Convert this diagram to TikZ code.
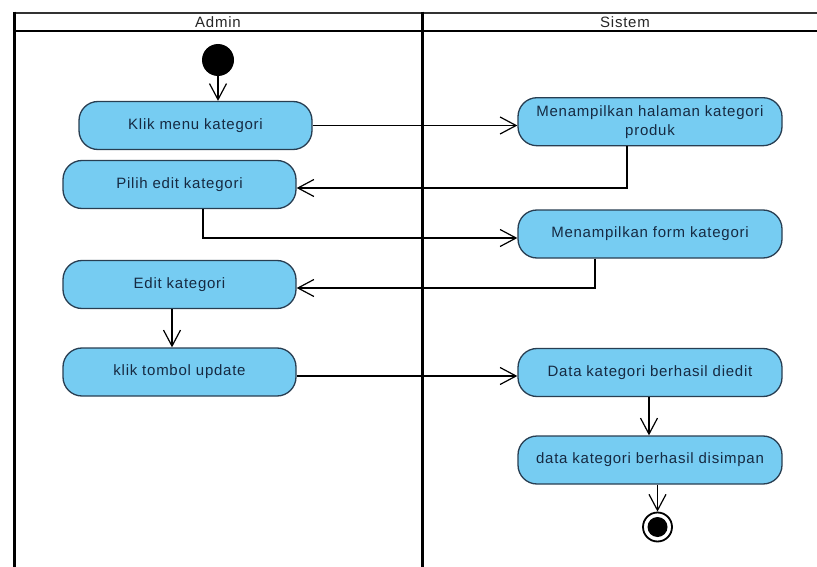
\documentclass[tikz,border=0pt]{standalone}
\usepackage{fontspec}
\setmainfont{Liberation Sans}[LetterSpace=5]
\usetikzlibrary{arrows.meta}
\definecolor{actfill}{RGB}{118,204,242}
\definecolor{actline}{RGB}{40,62,82}
\definecolor{acttext}{RGB}{22,42,66}
\tikzset{
    act/.style={draw=actline, fill=actfill, text=acttext, line width=1.3pt, rounded corners=19pt, minimum height=48pt, inner sep=0pt, align=center},
    actleft/.style={act, minimum width=233pt},
    actright/.style={act, minimum width=264pt},
    flow/.style={line width=1.2pt, -{Straight Barb[length=16pt,width=17pt]}},
    lane/.style={line width=2.6pt},
}
\begin{document}
\begin{tikzpicture}[x=1pt, y=-1pt, font=\fontsize{15}{19}\selectfont]
                \useasboundingbox (0,0) rectangle (817,567);
                \draw [line width=2pt, draw=black!80] (13.2,12.7) -- (820,12.7);
                \draw [lane] (13.2,31) -- (820,31);
                \draw [lane] (14.5,11.7) -- (14.5,570);
                \draw [lane] (422.7,11.7) -- (422.7,570);
                \node [text=black!85] (admin) at (218,22.5) {Admin};
                \node [text=black!85] (sistem) at (625,22.5) {Sistem};
                \node [circle, fill=black, minimum size=32pt, inner sep=0pt] (start) at (218,60) {};
                \node [actleft] (klik) at (195.5,125.5) {Klik menu kategori};
                \node [actleft] (pilih) at (179.5,184.5) {Pilih edit kategori};
                \node [actleft] (edit) at (179.5,284.5) {Edit kategori};
                \node [actleft] (update) at (179.5,372) {klik tombol update};
                \node [actright] (halaman) at (650,121.7) {Menampilkan halaman kategori\\produk};
                \node [actright] (form) at (650,234) {Menampilkan form kategori};
                \node [actright] (diedit) at (650,372.5) {Data kategori berhasil diedit};
                \node [actright] (disimpan) at (650,460) {data kategori berhasil disimpan};
                \node [circle, draw=black, line width=1.8pt, fill=white, minimum size=29pt, inner sep=0pt] (end) at (657.5,527) {};
                \node [circle, fill=black, minimum size=20pt, inner sep=0pt] (endcore) at (end) {};
                \draw [flow] (start) -- (start |- klik.north);
                \draw [flow] (klik.east) -- (klik.east -| halaman.west);
                \draw [flow] ([xshift=-23pt]halaman.south) |- ([yshift=-3.5pt]pilih.east);
                \draw [flow] ([xshift=23.5pt]pilih.south) |- ([yshift=-4pt]form.west);
                \draw [flow] ([xshift=-55pt]form.south) |- ([yshift=-3.5pt]edit.east);
                \draw [flow] ([xshift=-7.5pt]edit.south) -- ([xshift=-7.5pt]update.north);
                \draw [flow] ([yshift=-4pt]update.east) -- ([yshift=-4pt]update.east -| diedit.west);
                \draw [flow] ([xshift=-1pt]diedit.south) -- ([xshift=-1pt]disimpan.north);
                \draw [flow] (disimpan.south -| end) -- (end);
\end{tikzpicture}
\end{document}
